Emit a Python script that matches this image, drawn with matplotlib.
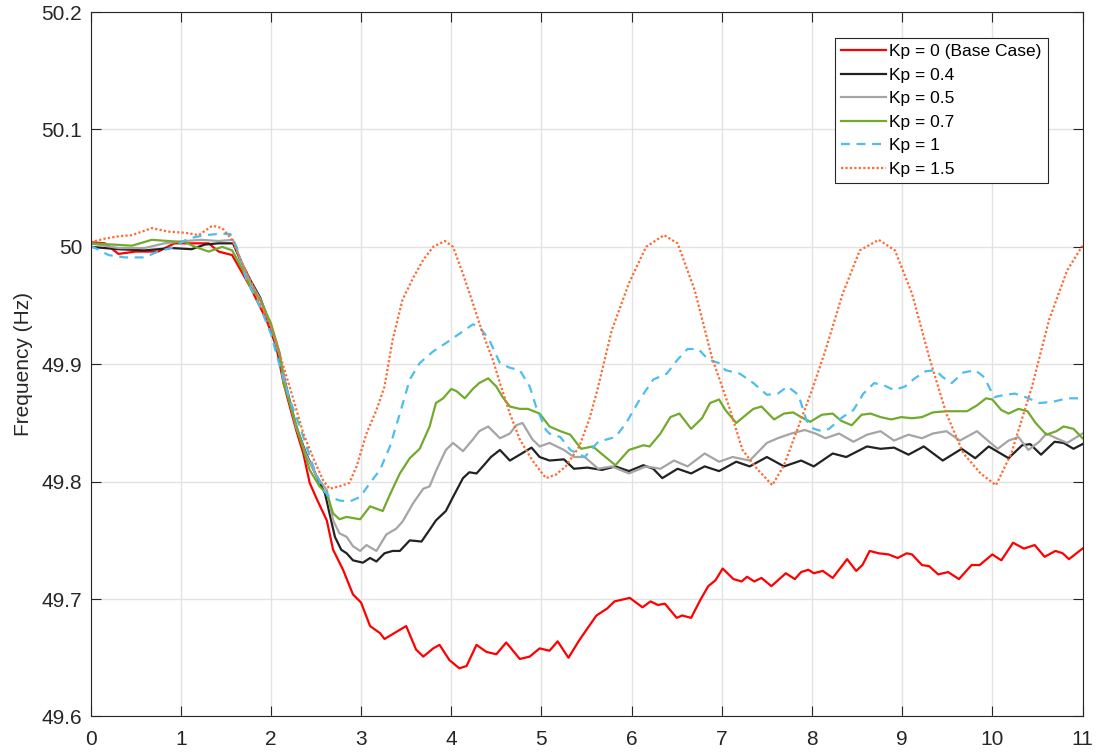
import numpy as np
import matplotlib
matplotlib.use("Agg")
import matplotlib.pyplot as plt

plt.rcParams['font.family'] = ['Liberation Sans', 'DejaVu Sans']

# Kp = 0 (Base Case)
t_kp0 = [0, 0.16, 0.31, 0.5, 0.75, 0.93, 1.12, 1.31, 1.42, 1.57, 1.77, 1.95, 2.06, 2.14,
         2.21, 2.28, 2.36, 2.43, 2.51, 2.62, 2.69, 2.80, 2.91, 3.0, 3.10, 3.21, 3.26, 3.39,
         3.50, 3.61, 3.69, 3.80, 3.87, 3.98, 4.09, 4.17, 4.28, 4.39, 4.50, 4.61, 4.76, 4.87,
         4.98, 5.09, 5.18, 5.30, 5.42, 5.51, 5.61, 5.73, 5.81, 5.98, 6.12, 6.21, 6.29, 6.37,
         6.50, 6.56, 6.66, 6.76, 6.85, 6.93, 7.01, 7.13, 7.22, 7.28, 7.36, 7.44, 7.55, 7.71,
         7.81, 7.88, 7.96, 8.02, 8.12, 8.23, 8.39, 8.49, 8.56, 8.64, 8.74, 8.85, 8.95, 9.05,
         9.11, 9.22, 9.30, 9.40, 9.51, 9.63, 9.77, 9.86, 10.0, 10.10, 10.23, 10.35, 10.47,
         10.58, 10.70, 10.78, 10.85, 11.0]
f_kp0 = [50.004, 50.003, 49.994, 49.996, 49.996, 50.003, 50.003, 50.003, 49.996, 49.993,
         49.966, 49.938, 49.915, 49.884, 49.864, 49.844, 49.824, 49.799, 49.785, 49.767,
         49.742, 49.725, 49.704, 49.697, 49.677, 49.671, 49.666, 49.672, 49.677, 49.657,
         49.651, 49.658, 49.661, 49.648, 49.641, 49.643, 49.661, 49.655, 49.653, 49.663,
         49.649, 49.651, 49.658, 49.656, 49.664, 49.650, 49.665, 49.675, 49.686, 49.692,
         49.698, 49.701, 49.693, 49.698, 49.695, 49.696, 49.684, 49.686, 49.684, 49.699,
         49.711, 49.716, 49.726, 49.717, 49.715, 49.719, 49.715, 49.718, 49.711, 49.722,
         49.717, 49.723, 49.725, 49.722, 49.724, 49.718, 49.734, 49.724, 49.729, 49.741,
         49.739, 49.738, 49.735, 49.739, 49.738, 49.729, 49.728, 49.721, 49.723, 49.717,
         49.729, 49.729, 49.738, 49.733, 49.748, 49.743, 49.746, 49.736, 49.741, 49.739,
         49.734, 49.743]

# Kp = 0.4
t_kp04 = [0, 0.31, 0.6, 0.9, 1.12, 1.27, 1.42, 1.58, 1.66, 1.77, 1.88, 2.0, 2.10, 2.17,
          2.28, 2.39, 2.51, 2.60, 2.65, 2.71, 2.78, 2.84, 2.91, 3.02, 3.10, 3.17, 3.26, 3.35,
          3.43, 3.54, 3.67, 3.76, 3.83, 3.94, 4.02, 4.13, 4.20, 4.28, 4.35, 4.44, 4.54, 4.65,
          4.76, 4.89, 4.98, 5.09, 5.25, 5.36, 5.51, 5.67, 5.82, 5.97, 6.13, 6.24, 6.34, 6.51,
          6.66, 6.81, 6.97, 7.16, 7.31, 7.50, 7.69, 7.88, 8.02, 8.23, 8.38, 8.61, 8.76, 8.91,
          9.07, 9.24, 9.45, 9.66, 9.81, 9.96, 10.18, 10.33, 10.42, 10.54, 10.69, 10.79,
          10.90, 11.0]
f_kp04 = [50.0, 49.998, 49.997, 49.999, 49.998, 50.002, 50.003, 50.003, 49.989, 49.972,
          49.957, 49.932, 49.904, 49.881, 49.847, 49.824, 49.804, 49.790, 49.773, 49.753,
          49.742, 49.739, 49.733, 49.731, 49.735, 49.732, 49.739, 49.741, 49.741, 49.750,
          49.749, 49.759, 49.767, 49.775, 49.787, 49.803, 49.808, 49.807, 49.813, 49.821,
          49.827, 49.818, 49.823, 49.829, 49.821, 49.818, 49.819, 49.811, 49.812, 49.810,
          49.813, 49.809, 49.814, 49.811, 49.803, 49.811, 49.807, 49.813, 49.809, 49.817,
          49.813, 49.821, 49.813, 49.818, 49.813, 49.824, 49.821, 49.830, 49.828, 49.829,
          49.823, 49.830, 49.818, 49.828, 49.820, 49.830, 49.820, 49.831, 49.832, 49.823,
          49.834, 49.833, 49.828, 49.832]

# Kp = 0.5
t_kp05 = [0, 0.31, 0.6, 0.82, 1.05, 1.23, 1.42, 1.58, 1.66, 1.77, 1.88, 2.0, 2.10, 2.17,
          2.28, 2.39, 2.51, 2.62, 2.69, 2.76, 2.84, 2.91, 2.99, 3.06, 3.17, 3.28, 3.39, 3.46,
          3.58, 3.69, 3.76, 3.83, 3.94, 4.02, 4.13, 4.24, 4.31, 4.41, 4.54, 4.65, 4.72, 4.79,
          4.90, 4.98, 5.09, 5.25, 5.36, 5.48, 5.63, 5.78, 5.97, 6.16, 6.32, 6.47, 6.62, 6.81,
          6.97, 7.12, 7.31, 7.50, 7.62, 7.77, 7.92, 8.04, 8.15, 8.30, 8.46, 8.61, 8.76, 8.91,
          9.07, 9.22, 9.34, 9.49, 9.64, 9.83, 9.98, 10.06, 10.18, 10.29, 10.40, 10.52,
          10.60, 10.71, 10.83, 11.0]
f_kp05 = [50.003, 49.999, 49.999, 50.003, 50.005, 50.006, 50.005, 50.006, 49.990, 49.970,
          49.956, 49.933, 49.906, 49.880, 49.846, 49.823, 49.804, 49.793, 49.767, 49.756,
          49.753, 49.745, 49.741, 49.746, 49.741, 49.755, 49.760, 49.766, 49.782, 49.794,
          49.796, 49.809, 49.827, 49.833, 49.826, 49.836, 49.843, 49.847, 49.837, 49.841,
          49.848, 49.850, 49.836, 49.830, 49.833, 49.827, 49.821, 49.821, 49.811, 49.813,
          49.807, 49.813, 49.811, 49.818, 49.813, 49.824, 49.817, 49.821, 49.818, 49.833,
          49.837, 49.841, 49.844, 49.841, 49.837, 49.841, 49.834, 49.840, 49.843, 49.835,
          49.840, 49.837, 49.841, 49.843, 49.835, 49.843, 49.833, 49.828, 49.835, 49.838,
          49.827, 49.834, 49.841, 49.837, 49.833, 49.841]

# Kp = 0.7
t_kp07 = [0, 0.24, 0.46, 0.68, 0.86, 1.05, 1.16, 1.31, 1.46, 1.57, 1.69, 1.77, 1.88, 2.0,
          2.10, 2.14, 2.21, 2.32, 2.43, 2.54, 2.62, 2.69, 2.76, 2.84, 2.91, 2.99, 3.10, 3.17,
          3.24, 3.32, 3.43, 3.54, 3.65, 3.76, 3.83, 3.91, 4.00, 4.06, 4.15, 4.24, 4.31, 4.41,
          4.50, 4.57, 4.65, 4.76, 4.85, 4.98, 5.09, 5.21, 5.32, 5.44, 5.57, 5.71, 5.82, 5.97,
          6.13, 6.20, 6.32, 6.43, 6.53, 6.66, 6.78, 6.87, 6.97, 7.04, 7.16, 7.27, 7.35, 7.44,
          7.58, 7.69, 7.79, 7.88, 7.98, 8.11, 8.23, 8.32, 8.44, 8.55, 8.65, 8.76, 8.88, 8.99,
          9.11, 9.22, 9.34, 9.49, 9.60, 9.72, 9.83, 9.93, 10.0, 10.10, 10.18, 10.29, 10.39,
          10.48, 10.60, 10.71, 10.79, 10.90, 11.0]
f_kp07 = [50.003, 50.002, 50.001, 50.006, 50.005, 50.004, 50.0, 49.996, 50.0, 49.997,
          49.980, 49.966, 49.955, 49.935, 49.909, 49.884, 49.867, 49.838, 49.810, 49.796,
          49.790, 49.773, 49.768, 49.770, 49.769, 49.768, 49.779, 49.777, 49.775, 49.789,
          49.807, 49.820, 49.828, 49.847, 49.867, 49.871, 49.879, 49.877, 49.871, 49.879,
          49.884, 49.888, 49.881, 49.872, 49.864, 49.862, 49.862, 49.858, 49.847, 49.843,
          49.840, 49.828, 49.830, 49.821, 49.814, 49.827, 49.831, 49.830, 49.841, 49.855,
          49.858, 49.845, 49.854, 49.867, 49.870, 49.861, 49.850, 49.857, 49.862, 49.864,
          49.853, 49.858, 49.859, 49.855, 49.851, 49.857, 49.858, 49.852, 49.848, 49.857,
          49.858, 49.855, 49.853, 49.855, 49.854, 49.855, 49.859, 49.860, 49.860, 49.860,
          49.865, 49.871, 49.870, 49.861, 49.858, 49.862, 49.860, 49.850, 49.840, 49.843,
          49.847, 49.845, 49.837]

# Kp = 1
t_kp1 = [0, 0.2, 0.38, 0.6, 0.75, 0.93, 1.08, 1.27, 1.42, 1.55, 1.62, 1.73, 1.88, 2.0,
         2.10, 2.21, 2.32, 2.47, 2.58, 2.65, 2.76, 2.87, 2.99, 3.10, 3.21, 3.32, 3.43, 3.54,
         3.65, 3.80, 3.94, 4.09, 4.24, 4.31, 4.42, 4.54, 4.65, 4.76, 4.87, 4.94, 5.05, 5.09,
         5.21, 5.32, 5.48, 5.63, 5.82, 5.94, 6.09, 6.24, 6.39, 6.51, 6.62, 6.74, 6.85, 6.97,
         7.04, 7.20, 7.35, 7.50, 7.62, 7.73, 7.85, 7.94, 8.02, 8.11, 8.19, 8.34, 8.46, 8.57,
         8.69, 8.80, 8.91, 9.03, 9.14, 9.26, 9.37, 9.45, 9.55, 9.68, 9.81, 9.91, 10.02,
         10.14, 10.25, 10.37, 10.52, 10.67, 10.83, 11.0]
f_kp1 = [50.001, 49.993, 49.991, 49.991, 49.996, 50.0, 50.007, 50.010, 50.011, 50.011,
         50.0, 49.972, 49.949, 49.926, 49.898, 49.870, 49.847, 49.813, 49.793, 49.787,
         49.784, 49.783, 49.787, 49.799, 49.810, 49.830, 49.858, 49.887, 49.901, 49.911,
         49.918, 49.926, 49.934, 49.932, 49.921, 49.901, 49.897, 49.895, 49.881, 49.864,
         49.844, 49.841, 49.838, 49.827, 49.821, 49.834, 49.838, 49.850, 49.870, 49.887,
         49.892, 49.904, 49.913, 49.913, 49.904, 49.901, 49.895, 49.892, 49.884, 49.874,
         49.875, 49.881, 49.874, 49.852, 49.845, 49.843, 49.845, 49.855, 49.861, 49.875,
         49.884, 49.882, 49.878, 49.881, 49.888, 49.894, 49.895, 49.889, 49.884, 49.893,
         49.895, 49.889, 49.872, 49.874, 49.875, 49.872, 49.867, 49.868, 49.871, 49.871]

# Kp = 1.5
t_kp15 = [0, 0.16, 0.31, 0.46, 0.68, 0.86, 1.05, 1.20, 1.35, 1.46, 1.57, 1.68, 1.79, 2.03,
          2.14, 2.25, 2.36, 2.47, 2.58, 2.65, 2.76, 2.87, 2.95, 3.06, 3.17, 3.26, 3.35, 3.46,
          3.58, 3.69, 3.80, 3.93, 4.02, 4.13, 4.24, 4.35, 4.46, 4.54, 4.65, 4.76, 4.90, 5.05,
          5.16, 5.27, 5.42, 5.53, 5.62, 5.78, 5.97, 6.16, 6.36, 6.51, 6.70, 6.89, 7.08, 7.23,
          7.39, 7.56, 7.69, 7.85, 8.0, 8.15, 8.34, 8.53, 8.74, 8.92, 9.11, 9.30, 9.49, 9.68,
          9.87, 10.04, 10.21, 10.44, 10.63, 10.83, 11.0]
f_kp15 = [50.004, 50.007, 50.009, 50.010, 50.016, 50.013, 50.012, 50.010, 50.018, 50.016,
          50.006, 49.986, 49.969, 49.926, 49.898, 49.870, 49.841, 49.820, 49.801, 49.794,
          49.796, 49.799, 49.813, 49.841, 49.861, 49.881, 49.921, 49.955, 49.974, 49.989,
          50.0, 50.005, 50.0, 49.977, 49.952, 49.926, 49.904, 49.884, 49.858, 49.836, 49.818,
          49.803, 49.806, 49.813, 49.830, 49.853, 49.878, 49.929, 49.969, 50.0, 50.010,
          50.003, 49.963, 49.906, 49.864, 49.827, 49.811, 49.797, 49.814, 49.847, 49.878,
          49.912, 49.960, 49.997, 50.006, 49.997, 49.960, 49.906, 49.858, 49.824, 49.807,
          49.797, 49.824, 49.881, 49.938, 49.980, 50.001]

labels = ['Kp = 0 (Base Case)', 'Kp = 0.4', 'Kp = 0.5', 'Kp = 0.7', 'Kp = 1', 'Kp = 1.5']
colors = ['#ff0000', '#222222', '#a5a5a5', '#72aa2e', '#4dbeee', '#ff6a33']
styles = ['-', '-', '-', '-', (0, (4, 3)), (0, (1, 1))]
series = [(t_kp0, f_kp0), (t_kp04, f_kp04), (t_kp05, f_kp05),
          (t_kp07, f_kp07), (t_kp1, f_kp1), (t_kp15, f_kp15)]

yticks = [49.6, 49.7, 49.8, 49.9, 50.0, 50.1, 50.2]
ytick_labels = ['49.6', '49.7', '49.8', '49.9', '50', '50.1', '50.2']

fig = plt.figure(figsize=(11, 7.53), dpi=100)
ax = fig.add_axes([0.0823, 0.0485, 0.9018, 0.9355])

for (t, f), lab, c, ls in zip(series, labels, colors, styles):
    ax.plot(t, f, color=c, linestyle=ls, linewidth=1.6, label=lab)

ax.set_xlim(0, 11)
ax.set_ylim(49.6, 50.2)
ax.set_xticks(range(12))
ax.set_yticks(yticks)
ax.set_yticklabels(ytick_labels)
ax.grid(True, color='#e3e3e3', linewidth=1)
ax.set_axisbelow(True)
ax.tick_params(direction='in', length=7, width=0.8, top=True, right=True,
               labelsize=15, colors='#262626')
ax.tick_params(axis='x', pad=10)
ax.tick_params(axis='y', pad=6)
for sp in ax.spines.values():
    sp.set_color('#262626')
    sp.set_linewidth(0.8)
ax.set_ylabel('Frequency (Hz)', fontsize=15, color='#262626', labelpad=6)

leg = ax.legend(loc='upper right', bbox_to_anchor=(0.965, 0.963), borderaxespad=0,
                fontsize=12.5, handlelength=2.6, handletextpad=0.2, borderpad=0.35,
                labelspacing=0.48, fancybox=False, framealpha=1)
leg.get_frame().set_edgecolor('#262626')
leg.get_frame().set_linewidth(0.8)

fig.savefig('out.png', dpi=100)
